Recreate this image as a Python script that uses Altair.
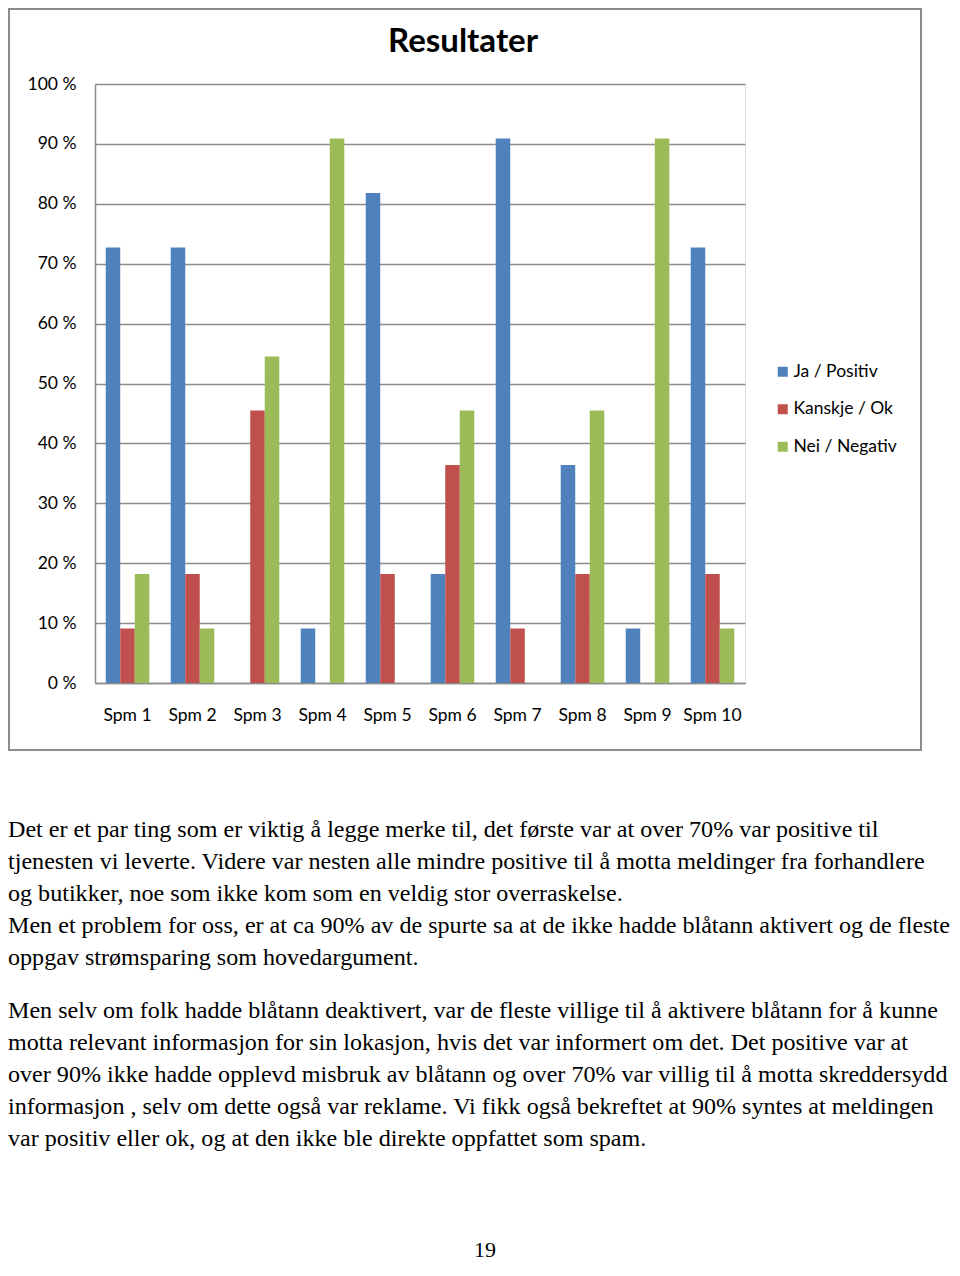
import altair as alt
import pandas as pd

categories = ["Spm 1", "Spm 2", "Spm 3", "Spm 4", "Spm 5",
              "Spm 6", "Spm 7", "Spm 8", "Spm 9", "Spm 10"]
series = ["Ja / Positiv", "Kanskje / Ok", "Nei / Negativ"]
ja = [72.7, 72.7, 0.0, 9.1, 81.8, 18.2, 90.9, 36.4, 9.1, 72.7]
kanskje = [9.1, 18.2, 45.5, 0.0, 18.2, 36.4, 9.1, 18.2, 0.0, 18.2]
nei = [18.2, 9.1, 54.5, 90.9, 0.0, 45.5, 0.0, 45.5, 90.9, 9.1]
colors = ["#4F81BD", "#C0504D", "#9BBB59"]
y_ticks = [0, 10, 20, 30, 40, 50, 60, 70, 80, 90, 100]
title_text = "Resultater"

paragraph1 = [
    "Det er et par ting som er viktig å legge merke til, det første var at over 70% var positive til",
    "tjenesten vi leverte. Videre var nesten alle mindre positive til å motta meldinger fra forhandlere",
    "og butikker, noe som ikke kom som en veldig stor overraskelse.",
    "Men et problem for oss, er at ca 90% av de spurte sa at de ikke hadde blåtann aktivert og de fleste",
    "oppgav strømsparing som hovedargument.",
]
paragraph2 = [
    "Men selv om folk hadde blåtann deaktivert, var de fleste villige til å aktivere blåtann for å kunne",
    "motta relevant informasjon for sin lokasjon, hvis det var informert om det. Det positive var at",
    "over 90% ikke hadde opplevd misbruk av blåtann og over 70% var villig til å motta skreddersydd",
    "informasjon , selv om dette også var reklame. Vi fikk også bekreftet at 90% syntes at meldingen",
    "var positiv eller ok, og at den ikke ble direkte oppfattet som spam.",
]
page_number = "19"

rows = []
for i, c in enumerate(categories):
    for s, vals in zip(series, [ja, kanskje, nei]):
        rows.append({"category": c, "series": s, "value": vals[i]})
df = pd.DataFrame(rows)

GRID = "#8c8c8c"
LBL_FONT = "Lato"

bars = alt.Chart(df).mark_bar().encode(
    x=alt.X("category:N", sort=categories,
            scale=alt.Scale(paddingInner=0.33, paddingOuter=0.165),
            axis=alt.Axis(title=None, labelAngle=0, ticks=False, labelPadding=23,
                          labelFont=LBL_FONT, labelFontSize=17.5, labelColor="#000000",
                          domainColor=GRID, domainWidth=1.5, grid=False)),
    xOffset=alt.XOffset("series:N", sort=series,
                        scale=alt.Scale(paddingInner=0, paddingOuter=0)),
    y=alt.Y("value:Q", scale=alt.Scale(domain=[0, 100]),
            axis=alt.Axis(title=None, values=y_ticks, labelExpr="datum.value + ' %'",
                          ticks=False, labelPadding=19, labelFont=LBL_FONT,
                          labelFontSize=17.5, labelColor="#000000",
                          domainColor=GRID, domainWidth=1.5,
                          grid=True, gridColor=GRID, gridWidth=1.5)),
    color=alt.Color("series:N", sort=series,
                    scale=alt.Scale(domain=series, range=colors),
                    legend=alt.Legend(title=None, orient="none", legendX=679, legendY=279,
                                      symbolType="square", symbolSize=100,
                                      symbolStrokeWidth=0, labelFont=LBL_FONT,
                                      labelFontSize=17.5, labelColor="#000000",
                                      rowPadding=18.5, labelOffset=2, padding=0)),
)

one = alt.Data(values=[{}])

frame = alt.Chart(one).mark_rect(fillOpacity=0, stroke=GRID, strokeWidth=2).encode(
    x=alt.value(-86), x2=alt.value(826), y=alt.value(-75), y2=alt.value(666)
)

title = alt.Chart(one).mark_text(text=title_text, font=LBL_FONT, fontSize=33,
                                 fontWeight="bold", color="#000000",
                                 align="center", baseline="alphabetic").encode(
    x=alt.value(368), y=alt.value(-32)
)

layers = [frame, bars, title]
for i, line in enumerate(paragraph1):
    layers.append(alt.Chart(one).mark_text(text=line, font="Liberation Serif", fontSize=24.1,
                                           color="#000000", align="left",
                                           baseline="alphabetic").encode(
        x=alt.value(-87), y=alt.value(837 - 84 + 32 * i)))
for i, line in enumerate(paragraph2):
    layers.append(alt.Chart(one).mark_text(text=line, font="Liberation Serif", fontSize=24.1,
                                           color="#000000", align="left",
                                           baseline="alphabetic").encode(
        x=alt.value(-87), y=alt.value(1018 - 84 + 32 * i)))
layers.append(alt.Chart(one).mark_text(text=page_number, font="Liberation Serif", fontSize=22,
                                       color="#000000", align="center",
                                       baseline="alphabetic").encode(
    x=alt.value(485 - 95), y=alt.value(1257 - 84)))

chart = alt.layer(*layers).properties(
    width=650, height=599,
    autosize=alt.AutoSizeParams(type="none"),
    padding={"left": 87, "top": 76, "right": 207, "bottom": 579},
).configure_view(stroke=None).configure(background="white")

chart.save("out.html", embed_options={"renderer": "svg", "actions": False})
